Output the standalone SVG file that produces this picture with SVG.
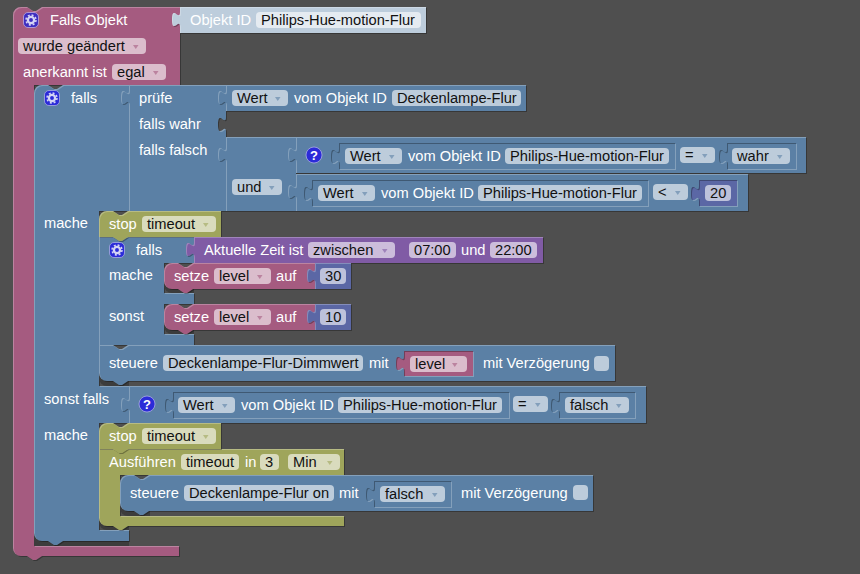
<svg xmlns="http://www.w3.org/2000/svg" width="860" height="574" viewBox="0 0 860 574">
<style>
text{font-family:"Liberation Sans",Arial,sans-serif;font-size:14.67px}
.l{fill:#fff}.v{fill:#111}
.pk{fill:#a55b80}.bl{fill:#5b80a5}.ol{fill:#9fa55b}.pu{fill:#805ba5}.nu{fill:#5b67a5}.lt{fill:#bdcddc}
.fb{fill:#bdccdb}.fp{fill:#dbbdcc}.fo{fill:#d9dbbd}.fu{fill:#ccbddb}.fn{fill:#bdc2db}.fl{fill:#e5ebf1}
.o{filter:url(#out)}.i{filter:url(#ins)}
.ab{fill:#5b80a5}.ap{fill:#a55b80}.ao{fill:#9fa55b}.au{fill:#805ba5}
.sh{fill:#3c3c3c}
.q{font-size:13px;font-weight:700;fill:#fff;text-anchor:middle}
</style>
<defs>
<filter id="out" filterUnits="userSpaceOnUse" x="0" y="0" width="860" height="574" color-interpolation-filters="sRGB">
<feOffset in="SourceAlpha" dx="1" dy="1" result="a"/>
<feComposite in="a" in2="SourceAlpha" operator="out" result="d0"/>
<feFlood flood-color="#000" flood-opacity=".3"/><feComposite in2="d0" operator="in" result="d"/>
<feComposite in="SourceAlpha" in2="a" operator="out" result="l0"/>
<feFlood flood-color="#fff" flood-opacity=".25"/><feComposite in2="l0" operator="in" result="li"/>
<feMerge><feMergeNode in="d"/><feMergeNode in="SourceGraphic"/><feMergeNode in="li"/></feMerge>
</filter>
<filter id="ins" filterUnits="userSpaceOnUse" x="0" y="0" width="860" height="574" color-interpolation-filters="sRGB">
<feOffset in="SourceAlpha" dx="1" dy="1" result="a"/>
<feComposite in="a" in2="SourceAlpha" operator="out" result="d0"/>
<feFlood flood-color="#fff" flood-opacity=".25"/><feComposite in2="d0" operator="in" result="d"/>
<feComposite in="SourceAlpha" in2="a" operator="out" result="l0"/>
<feFlood flood-color="#000" flood-opacity=".3"/><feComposite in2="l0" operator="in" result="li"/>
<feMerge><feMergeNode in="d"/><feMergeNode in="SourceGraphic"/><feMergeNode in="li"/></feMerge>
</filter>
<path id="ar" d="M1,1h5.5l-2.75,4z" opacity=".6"/>
<g id="teeth"><circle cx="8" cy="8" r="3.1" fill="none" stroke="#d5d5f5" stroke-width="2.3"/>
<circle cx="8" cy="8" r="5" fill="none" stroke="#d5d5f5" stroke-width="1.5" stroke-dasharray="2 1.93"/></g>
<g id="gear"><rect x="0.5" y="0.5" width="15" height="15" rx="4.5" fill="#2b2bd8" stroke="#b8b8e8" stroke-opacity=".7"/><use href="#teeth"/></g>
<g id="gear2"><rect x="0.5" y="0.5" width="15" height="15" rx="4.5" fill="#3d2dc0" stroke="#c8b8e8" stroke-opacity=".7"/><use href="#teeth"/></g>
<circle id="help" cx="0" cy="0" r="8" fill="#2b2bd8" stroke="#b8b8e8" stroke-opacity=".7"/>
</defs>
<rect width="860" height="574" fill="#4f4f4f"/>

<g id="falls-objekt">
<path class="pk o" d="M13,15a8,8 0 0 1 8,-8H27l6,4 3,0 6,-4H180V85H34V546H179V556H42l-6,4-3,0-6,-4H21a8,8 0 0 1-8,-8Z"/>
<path class="lt o" d="M180,7H426V33H180V27c0,-10 -8,8 -8,-7.5s8,2.5 8,-7.5Z"/>
<use href="#gear2" x="23" y="12"/>
<text class="l" x="50" y="25">Falls Objekt</text>
<text class="l" x="190" y="25">Objekt ID</text>
<rect class="fl" x="256" y="12" width="165" height="16" rx="4"/><text class="v" x="261" y="25">Philips-Hue-motion-Flur</text>
<rect class="fp" x="18" y="38" width="128" height="16" rx="4"/><text class="v" x="23" y="51">wurde geändert</text><use href="#ar" x="132" y="44" class="ap"/>
<text class="l" x="23" y="77">anerkannt ist</text>
<rect class="fp" x="112" y="64" width="54" height="16" rx="4"/><text class="v" x="117" y="77">egal</text><use href="#ar" x="152" y="70" class="ap"/>
</g>

<g id="falls-main">
<path class="sh" d="M34,536H129V546H34Z"/>
<path class="bl o" d="M34,93a8,8 0 0 1 8,-8H48l6,4 3,0 6,-4H129V211H99V386H129V423H99V530H129V541H63l-6,4-3,0-6,-4H42a8,8 0 0 1-8,-8Z"/>
<use href="#gear" x="44" y="90"/>
<text class="l" x="71" y="103">falls</text>
<text class="l" x="44" y="228">mache</text>
<text class="l" x="44" y="404">sonst falls</text>
<text class="l" x="44" y="440">mache</text>
</g>

<g id="pruefe">
<path class="bl o" d="M129,85H226V117c0,10 -8,-8 -8,7.5s8,-2.5 8,7.5V211H129V105c0,-10 -8,8 -8,-7.5s8,2.5 8,-7.5Z"/>
<text class="l" x="139" y="103">prüfe</text>
<text class="l" x="139" y="129">falls wahr</text>
<text class="l" x="139" y="155">falls falsch</text>
</g>

<g id="wert-deckenlampe">
<path class="bl o" d="M226,85H526V111H226V105c0,-10 -8,8 -8,-7.5s8,2.5 8,-7.5Z"/>
<rect class="fb" x="232" y="90" width="56" height="16" rx="4"/><text class="v" x="237" y="103">Wert</text><use href="#ar" x="274" y="96" class="ab"/>
<text class="l" x="294" y="103">vom Objekt ID</text>
<rect class="fb" x="392" y="90" width="129" height="16" rx="4"/><text class="v" x="397" y="103">Deckenlampe-Flur</text>
</g>

<g id="und">
<path class="bl o" d="M226,137H296V211H226V162c0,-10 -8,8 -8,-7.5s8,2.5 8,-7.5Z"/>
<rect class="fb" x="232" y="179" width="50" height="16" rx="4"/><text class="v" x="237" y="192">und</text><use href="#ar" x="268" y="185" class="ab"/>
</g>

<g id="vergleich-wahr">
<path class="bl o" d="M296,137H806V173H296V162c0,-10 -8,8 -8,-7.5s8,2.5 8,-7.5Z"/>
<use href="#help" x="314" y="155"/><text class="q" x="314" y="160">?</text>
<path class="bl i" d="M339,143H675V169H339V164c0,-10 -8,8 -8,-7.5s8,2.5 8,-7.5Z"/>
<rect class="fb" x="345" y="148" width="57" height="16" rx="4"/><text class="v" x="350" y="161">Wert</text><use href="#ar" x="388" y="154" class="ab"/>
<text class="l" x="408" y="161">vom Objekt ID</text>
<rect class="fb" x="505" y="148" width="164" height="16" rx="4"/><text class="v" x="510" y="161">Philips-Hue-motion-Flur</text>
<rect class="fb" x="680" y="147" width="35" height="16" rx="4"/><text class="v" x="685" y="160">=</text><use href="#ar" x="701" y="153" class="ab"/>
<path class="bl i" d="M727,143H796V169H727V164c0,-10 -8,8 -8,-7.5s8,2.5 8,-7.5Z"/>
<rect class="fb" x="732" y="148" width="58" height="16" rx="4"/><text class="v" x="737" y="161">wahr</text><use href="#ar" x="776" y="154" class="ab"/>
</g>

<g id="vergleich-20">
<path class="bl o" d="M296,174H748V211H296V199c0,-10 -8,8 -8,-7.5s8,2.5 8,-7.5Z"/>
<path class="bl i" d="M312,180H648V206H312V201c0,-10 -8,8 -8,-7.5s8,2.5 8,-7.5Z"/>
<rect class="fb" x="318" y="185" width="57" height="16" rx="4"/><text class="v" x="323" y="198">Wert</text><use href="#ar" x="361" y="191" class="ab"/>
<text class="l" x="381" y="198">vom Objekt ID</text>
<rect class="fb" x="478" y="185" width="164" height="16" rx="4"/><text class="v" x="483" y="198">Philips-Hue-motion-Flur</text>
<rect class="fb" x="653" y="184" width="35" height="16" rx="4"/><text class="v" x="658" y="197">&lt;</text><use href="#ar" x="674" y="190" class="ab"/>
<path class="nu i" d="M699,180H737V206H699V201c0,-10 -8,8 -8,-7.5s8,2.5 8,-7.5Z"/>
<rect class="fn" x="705" y="185" width="26" height="16" rx="4"/><text class="v" x="710" y="198">20</text>
</g>

<g id="falls-inner">
<path class="bl o" d="M99,237H194V263H164V293H194V304H164V334H194V345H99Z"/>
<use href="#gear" x="109" y="242"/>
<text class="l" x="136" y="255">falls</text>
<text class="l" x="109" y="280">mache</text>
<text class="l" x="109" y="321">sonst</text>
</g>

<g id="stop-1">
<path class="ol o" d="M99,219a8,8 0 0 1 8,-8H113l6,4 3,0 6,-4H221V237H128l-6,4-3,0-6,-4H99Z"/>
<text class="l" x="109" y="229">stop</text>
<rect class="fo" x="142" y="216" width="74" height="16" rx="4"/><text class="v" x="147" y="229">timeout</text><use href="#ar" x="202" y="222" class="ao"/>
</g>

<g id="zeit">
<path class="pu o" d="M194,237H543V263H194V257c0,-10 -8,8 -8,-7.5s8,2.5 8,-7.5Z"/>
<text class="l" x="204" y="255">Aktuelle Zeit ist</text>
<rect class="fu" x="308" y="242" width="87" height="16" rx="4"/><text class="v" x="313" y="255">zwischen</text><use href="#ar" x="381" y="248" class="au"/>
<rect class="fu" x="409" y="242" width="47" height="16" rx="4"/><text class="v" x="414" y="255">07:00</text>
<text class="l" x="461" y="255">und</text>
<rect class="fu" x="490" y="242" width="47" height="16" rx="4"/><text class="v" x="495" y="255">22:00</text>
</g>

<g id="setze-30">
<path class="sh" d="M164,280H194V293H172a8,8 0 0 1-8,-8Z"/>
<path class="pk o" d="M164,271a8,8 0 0 1 8,-8H178l6,4 3,0 6,-4H315V289H193l-6,4-3,0-6,-4H172a8,8 0 0 1-8,-8Z"/>
<text class="l" x="174" y="281">setze</text>
<rect class="fp" x="214" y="268" width="57" height="16" rx="4"/><text class="v" x="219" y="281">level</text><use href="#ar" x="256" y="274" class="ap"/>
<text class="l" x="276" y="281">auf</text>
<path class="nu o" d="M315,263H351V289H315V283c0,-10 -8,8 -8,-7.5s8,2.5 8,-7.5Z"/>
<rect class="fn" x="320" y="268" width="26" height="16" rx="4"/><text class="v" x="325" y="281">30</text>
</g>

<g id="setze-10">
<path class="sh" d="M164,320H194V334H172a8,8 0 0 1-8,-8Z"/>
<path class="pk o" d="M164,312a8,8 0 0 1 8,-8H178l6,4 3,0 6,-4H315V330H193l-6,4-3,0-6,-4H172a8,8 0 0 1-8,-8Z"/>
<text class="l" x="174" y="322">setze</text>
<rect class="fp" x="214" y="309" width="57" height="16" rx="4"/><text class="v" x="219" y="322">level</text><use href="#ar" x="256" y="315" class="ap"/>
<text class="l" x="276" y="322">auf</text>
<path class="nu o" d="M315,304H351V330H315V324c0,-10 -8,8 -8,-7.5s8,2.5 8,-7.5Z"/>
<rect class="fn" x="320" y="309" width="26" height="16" rx="4"/><text class="v" x="325" y="322">10</text>
</g>

<g id="steuere-dimm">
<path class="sh" d="M99,372H129V386H107a8,8 0 0 1-8,-8Z"/>
<path class="bl o" d="M99,345H113l6,4 3,0 6,-4H615V381H128l-6,4-3,0-6,-4H107a8,8 0 0 1-8,-8Z"/>
<text class="l" x="109" y="368">steuere</text>
<rect class="fb" x="163" y="355" width="200" height="16" rx="4"/><text class="v" x="168" y="368">Deckenlampe-Flur-Dimmwert</text>
<text class="l" x="369" y="368">mit</text>
<path class="pk i" d="M404,351H473V376H404V371c0,-10 -8,8 -8,-7.5s8,2.5 8,-7.5Z"/>
<rect class="fp" x="410" y="356" width="57" height="16" rx="4"/><text class="v" x="415" y="369">level</text><use href="#ar" x="451" y="362" class="ap"/>
<text class="l" x="483" y="368">mit Verzögerung</text>
<rect class="fb" x="594" y="356" width="15" height="15" rx="4"/>
</g>

<g id="sonst-falls">
<path class="bl o" d="M129,386H646V423H129V412c0,-10 -8,8 -8,-7.5s8,2.5 8,-7.5Z"/>
<use href="#help" x="147" y="404"/><text class="q" x="147" y="409">?</text>
<path class="bl i" d="M173,392H509V418H173V413c0,-10 -8,8 -8,-7.5s8,2.5 8,-7.5Z"/>
<rect class="fb" x="178" y="397" width="57" height="16" rx="4"/><text class="v" x="183" y="410">Wert</text><use href="#ar" x="221" y="403" class="ab"/>
<text class="l" x="241" y="410">vom Objekt ID</text>
<rect class="fb" x="338" y="397" width="164" height="16" rx="4"/><text class="v" x="343" y="410">Philips-Hue-motion-Flur</text>
<rect class="fb" x="513" y="396" width="35" height="16" rx="4"/><text class="v" x="518" y="409">=</text><use href="#ar" x="534" y="402" class="ab"/>
<path class="bl i" d="M559,392H635V418H559V413c0,-10 -8,8 -8,-7.5s8,2.5 8,-7.5Z"/>
<rect class="fb" x="565" y="397" width="64" height="16" rx="4"/><text class="v" x="570" y="410">falsch</text><use href="#ar" x="615" y="403" class="ab"/>
</g>

<g id="ausfuehren">
<path class="sh" d="M99,518H129V530H107a8,8 0 0 1-8,-8Z"/>
<path class="ol o" d="M99,449H344V475H120V516H344V526H128l-6,4-3,0-6,-4H107a8,8 0 0 1-8,-8Z"/>
<text class="l" x="109" y="467">Ausführen</text>
<rect class="fo" x="181" y="454" width="58" height="16" rx="4"/><text class="v" x="186" y="467">timeout</text>
<text class="l" x="245" y="467">in</text>
<rect class="fo" x="260" y="454" width="19" height="16" rx="4"/><text class="v" x="265" y="467">3</text>
<rect class="fo" x="288" y="454" width="52" height="16" rx="4"/><text class="v" x="293" y="467">Min</text><use href="#ar" x="326" y="460" class="ao"/>
</g>

<g id="stop-2">
<path class="ol o" d="M99,431a8,8 0 0 1 8,-8H113l6,4 3,0 6,-4H221V449H128l-6,4-3,0-6,-4H99Z"/>
<text class="l" x="109" y="441">stop</text>
<rect class="fo" x="142" y="428" width="74" height="16" rx="4"/><text class="v" x="147" y="441">timeout</text><use href="#ar" x="202" y="434" class="ao"/>
</g>

<g id="steuere-on">
<path class="sh" d="M120,503H150V516H128a8,8 0 0 1-8,-8Z"/>
<path class="bl o" d="M120,483a8,8 0 0 1 8,-8H134l6,4 3,0 6,-4H593V511H149l-6,4-3,0-6,-4H128a8,8 0 0 1-8,-8Z"/>
<text class="l" x="130" y="498">steuere</text>
<rect class="fb" x="184" y="485" width="150" height="16" rx="4"/><text class="v" x="189" y="498">Deckenlampe-Flur on</text>
<text class="l" x="339" y="498">mit</text>
<path class="bl i" d="M374,481H451V507H374V502c0,-10 -8,8 -8,-7.5s8,2.5 8,-7.5Z"/>
<rect class="fb" x="380" y="486" width="65" height="16" rx="4"/><text class="v" x="385" y="499">falsch</text><use href="#ar" x="431" y="492" class="ab"/>
<text class="l" x="461" y="498">mit Verzögerung</text>
<rect class="fb" x="573" y="485" width="15" height="15" rx="4"/>
</g>
</svg>
